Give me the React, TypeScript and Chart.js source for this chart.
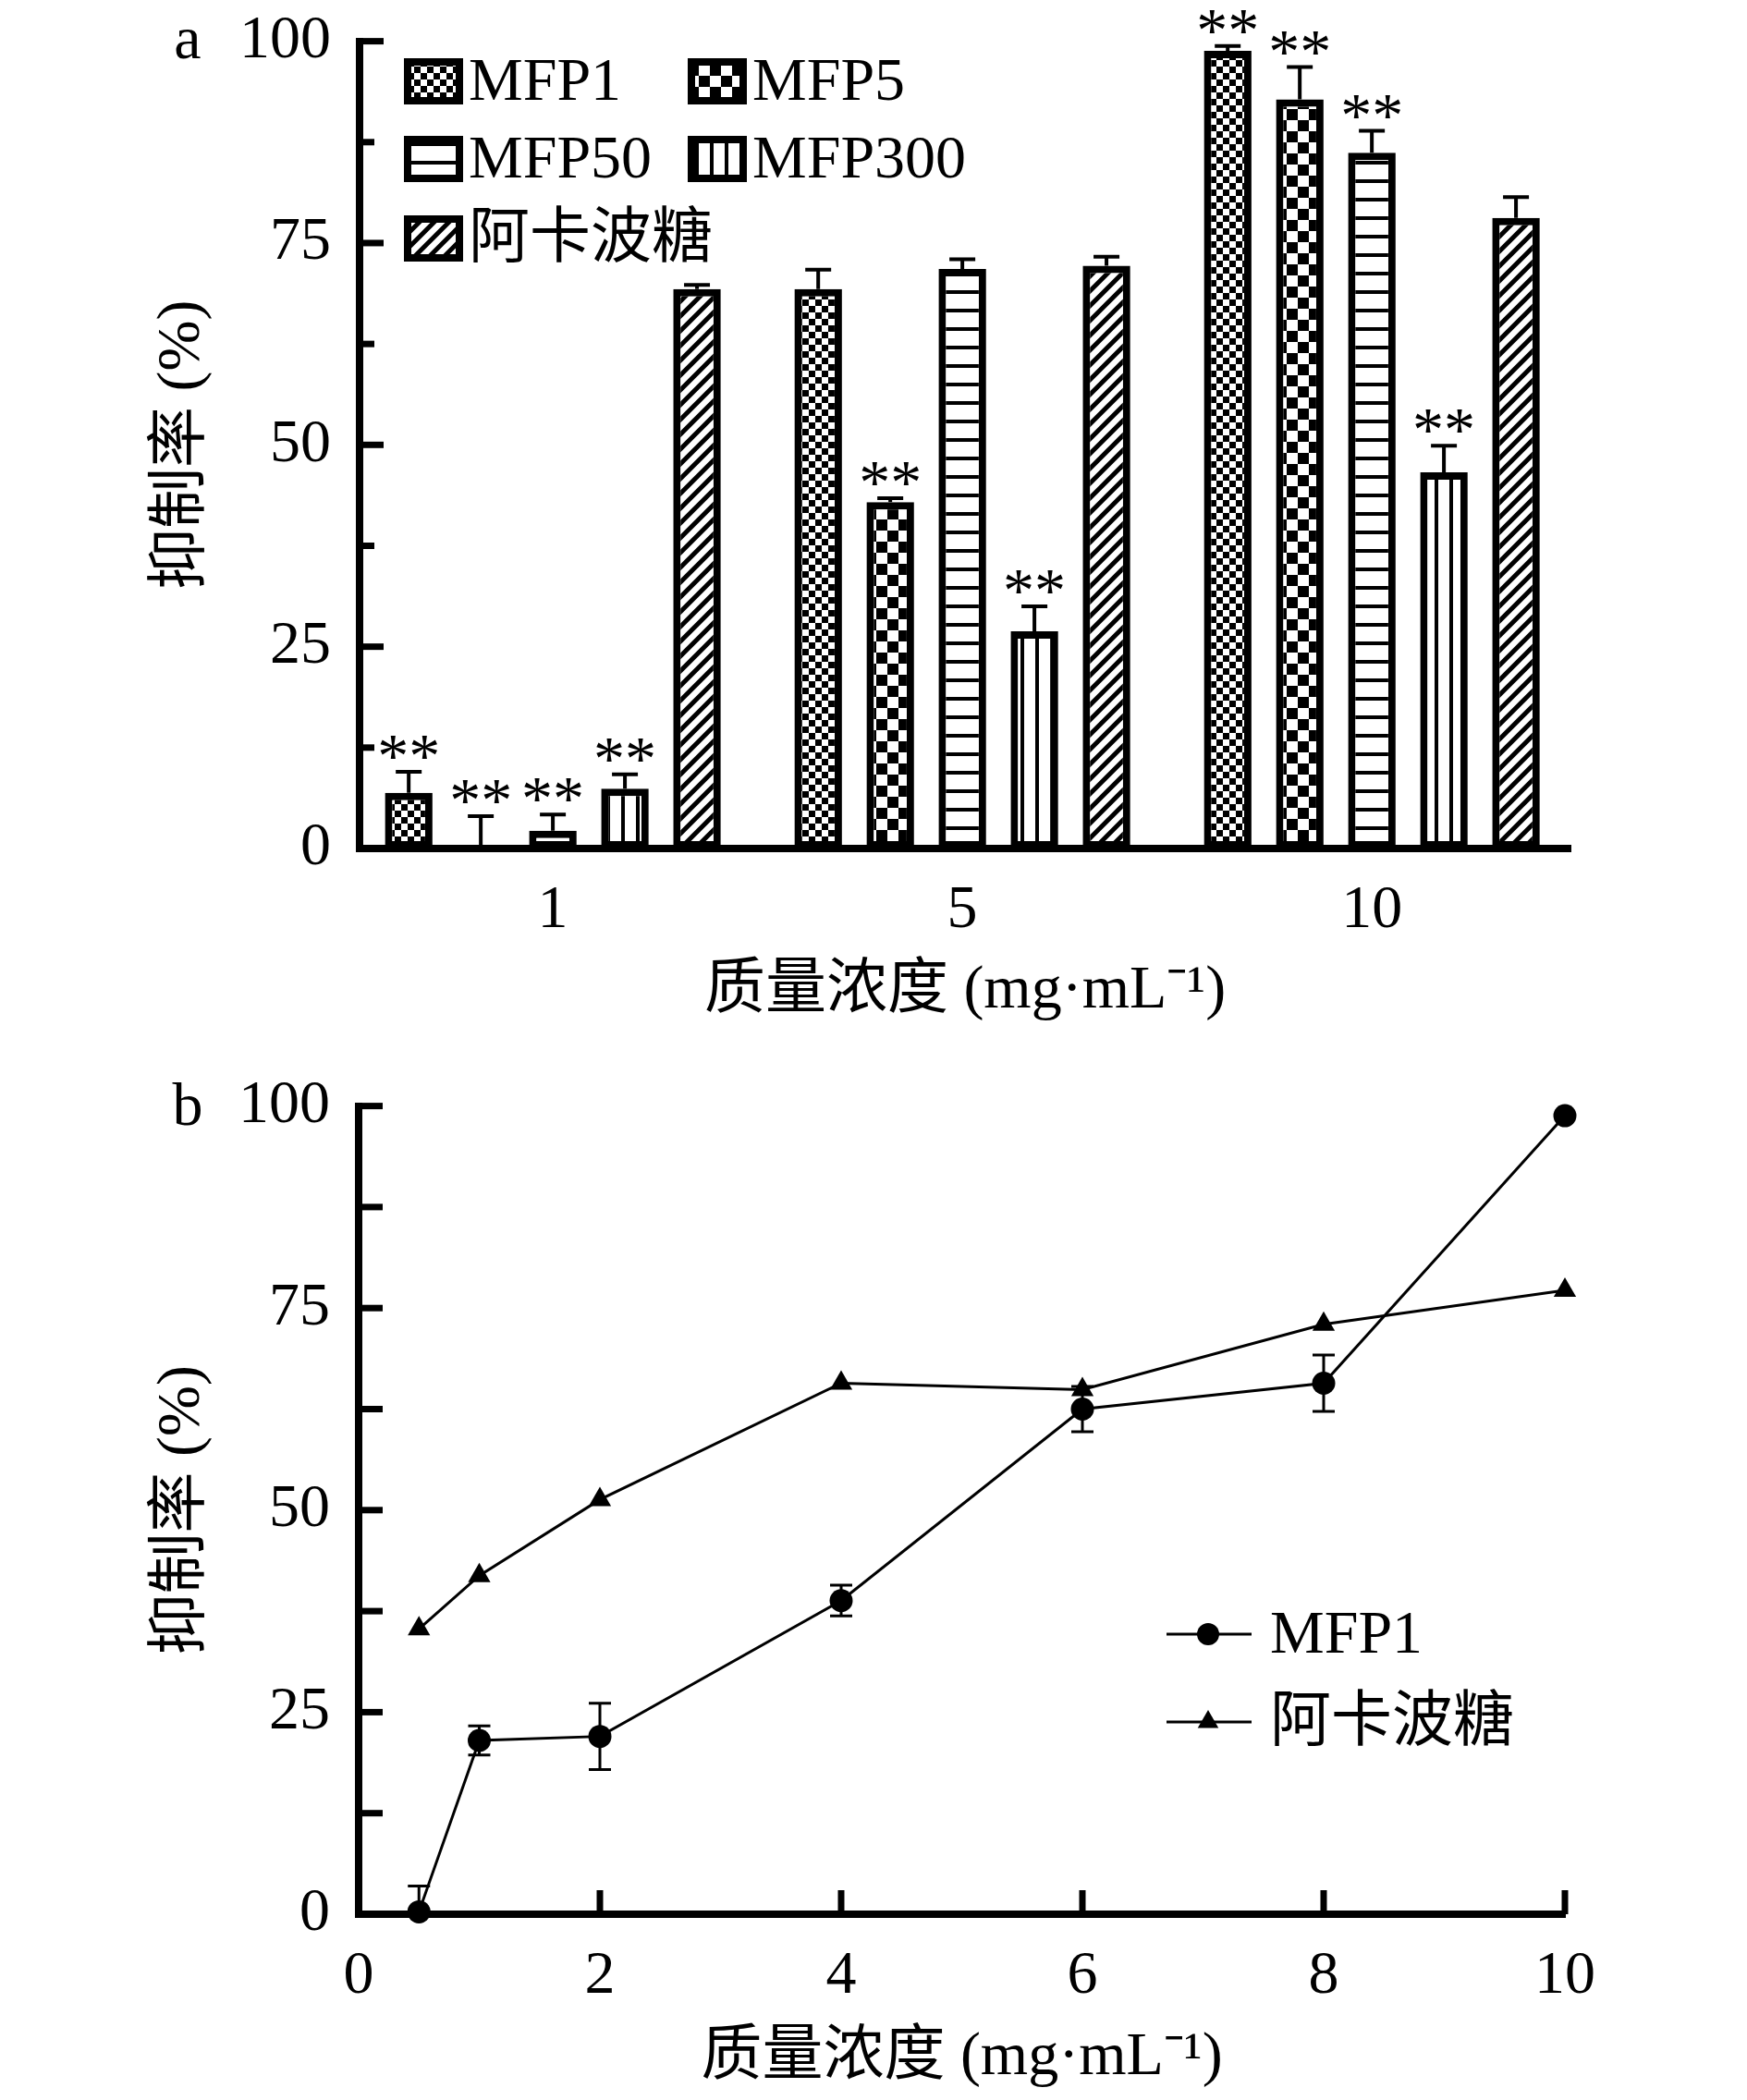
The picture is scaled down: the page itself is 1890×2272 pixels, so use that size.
import React, { useEffect, useRef } from 'react';
import { Chart, registerables } from 'chart.js';

Chart.register(...registerables);

// ---------- Panel a data ----------
const categories = ['1', '5', '10'];
const seriesNames = ['MFP1', 'MFP5', 'MFP50', 'MFP300', '阿卡波糖'];
const mfp1Values = [6.9, 69.3, 98.8];
const mfp5Values = [0, 42.9, 92.8];
const mfp50Values = [2.2, 71.8, 86.2];
const mfp300Values = [7.4, 26.9, 46.6];
const acarboseValues = [69.3, 72.2, 78.1];
const mfp1Err = [2.6, 2.4, 0.6];
const mfp5Err = [4.0, 0.5, 4.0];
const mfp50Err = [2.0, 1.2, 2.7];
const mfp300Err = [1.8, 3.1, 3.3];
const acarboseErr = [0.5, 1.1, 2.6];
const mfp1Sig = ['**', '', '**'];
const mfp5Sig = ['**', '**', '**'];
const mfp50Sig = ['**', '', '**'];
const mfp300Sig = ['**', '**', '**'];
const acarboseSig = ['', '', ''];
const yTicksA = [0, 25, 50, 75, 100];

// ---------- Panel b data ----------
const concentrations = [0.5, 1, 2, 4, 6, 8, 10];
const mfp1Curve = [0.3, 21.5, 22.0, 38.8, 62.5, 65.7, 98.8];
const mfp1CurveErr = [3.2, 1.8, 4.1, 1.9, 2.8, 3.5, 0];
const acarboseCurve = [35.3, 41.9, 51.3, 65.7, 64.9, 73.0, 77.2];
const xTicksB = [0, 2, 4, 6, 8, 10];
const curveNames = ['MFP1', '阿卡波糖'];

const xTitle = '质量浓度 (mg·mL⁻¹)';
const yTitle = '抑制率 (%)';

const FAMILY = '"Liberation Serif", "Times New Roman", "Noto Sans CJK SC", serif';
const FS = 66;
const font = { family: FAMILY, size: FS, weight: 'normal' as const, lineHeight: 1.2 };

// vertical offsets of the two canvases on the page
const TOP_A = -26;
const TOP_B = 1126;

function makePattern(kind: string): CanvasPattern | string {
  const c = document.createElement('canvas');
  let s = 16;
  if (kind === 'checkSmall') s = 14;
  if (kind === 'checkLarge') s = 24;
  if (kind === 'hlines') s = 20;
  if (kind === 'vlines') s = 16;
  if (kind === 'diag') s = 16;
  c.width = s;
  c.height = s;
  const g = c.getContext('2d')!;
  g.fillStyle = '#fff';
  g.fillRect(0, 0, s, s);
  g.fillStyle = '#000';
  g.strokeStyle = '#000';
  if (kind === 'checkSmall' || kind === 'checkLarge') {
    const h = s / 2;
    g.fillRect(0, 0, h, h);
    g.fillRect(h, h, h, h);
  } else if (kind === 'hlines') {
    g.fillRect(0, 0, s, 4);
  } else if (kind === 'vlines') {
    g.fillRect(0, 0, 4, s);
  } else if (kind === 'diag') {
    g.lineWidth = 5;
    g.beginPath();
    g.moveTo(0, s);
    g.lineTo(s, 0);
    g.moveTo(-s / 2, s / 2);
    g.lineTo(s / 2, -s / 2);
    g.moveTo(s / 2, (3 * s) / 2);
    g.lineTo((3 * s) / 2, s / 2);
    g.stroke();
  }
  const p = g.createPattern(c, 'repeat');
  return p || '#888';
}

function drawLegendBox(ctx: CanvasRenderingContext2D, x: number, y: number, w: number, h: number, fill: any) {
  ctx.save();
  ctx.fillStyle = fill;
  ctx.fillRect(x, y, w, h);
  ctx.strokeStyle = '#000';
  ctx.lineWidth = 8;
  ctx.strokeRect(x + 4, y + 4, w - 8, h - 8);
  ctx.restore();
}

export default function App() {
  const refA = useRef<HTMLCanvasElement>(null);
  const refB = useRef<HTMLCanvasElement>(null);

  useEffect(() => {
    const patterns = [
      makePattern('checkSmall'),
      makePattern('checkLarge'),
      makePattern('hlines'),
      makePattern('vlines'),
      makePattern('diag'),
    ];
    const values = [mfp1Values, mfp5Values, mfp50Values, mfp300Values, acarboseValues];
    const errs = [mfp1Err, mfp5Err, mfp50Err, mfp300Err, acarboseErr];
    const sigs = [mfp1Sig, mfp5Sig, mfp50Sig, mfp300Sig, acarboseSig];
    const oa = -TOP_A;

    const pluginA = {
      id: 'panelA',
      afterDatasetsDraw(chart: any) {
        const ctx: CanvasRenderingContext2D = chart.ctx;
        const ys = chart.scales.y;
        const area = chart.chartArea;
        ctx.save();
        values.forEach((vals, di) => {
          const meta = chart.getDatasetMeta(di);
          meta.data.forEach((bar: any, i: number) => {
            const cx = bar.x;
            const top = ys.getPixelForValue(vals[i]);
            const capY = ys.getPixelForValue(vals[i] + errs[di][i]);
            ctx.strokeStyle = '#000';
            ctx.lineWidth = 4;
            ctx.beginPath();
            ctx.moveTo(cx, top);
            ctx.lineTo(cx, capY);
            ctx.moveTo(cx - 14, capY);
            ctx.lineTo(cx + 14, capY);
            ctx.stroke();
            const sg = sigs[di][i];
            if (sg) {
              ctx.fillStyle = '#000';
              ctx.font = `68px ${FAMILY}`;
              ctx.textAlign = 'center';
              ctx.textBaseline = 'alphabetic';
              ctx.fillText(sg, cx, capY + 5);
            }
          });
        });
        ctx.strokeStyle = '#000';
        ctx.lineWidth = 7;
        for (let v = 0; v <= 100; v += 12.5) {
          const py = ys.getPixelForValue(v);
          const len = v % 25 === 0 ? 26 : 16;
          ctx.beginPath();
          ctx.moveTo(area.left, py);
          ctx.lineTo(area.left + len, py);
          ctx.stroke();
        }
        ctx.fillStyle = '#000';
        ctx.fillRect(area.left - 4, area.bottom - 4, 8, 8);
        // legend
        const boxW = 64;
        const boxH = 50;
        const cols = [437, 744];
        const rows = [88 + oa, 172 + oa, 258 + oa];
        ctx.font = `${FS}px ${FAMILY}`;
        ctx.textAlign = 'left';
        ctx.textBaseline = 'middle';
        seriesNames.forEach((name, i) => {
          const col = i % 2;
          const row = Math.floor(i / 2);
          const bx = cols[col];
          const by = rows[row] - boxH / 2;
          drawLegendBox(ctx, bx, by, boxW, boxH, patterns[i]);
          ctx.fillStyle = '#000';
          ctx.fillText(name, bx + boxW + 6, rows[row] + 3);
        });
        ctx.textAlign = 'center';
        ctx.fillText('a', 203, 46 + oa);
        ctx.restore();
      },
    };

    const chartA = new Chart(refA.current!, {
      type: 'bar',
      data: {
        datasets: seriesNames.map((name, i) => ({
          label: name,
          data: values[i].map((v, ci) => ({ x: ci, y: v })),
          backgroundColor: patterns[i] as any,
          borderColor: '#000',
          borderWidth: 8,
          borderSkipped: false,
          categoryPercentage: 0.88,
          barPercentage: 0.66,
        })),
      },
      options: {
        animation: false,
        responsive: false,
        devicePixelRatio: 1,
        layout: { padding: { left: 0, right: 191, top: 42 + oa, bottom: 18 } },
        plugins: { legend: { display: false }, tooltip: { enabled: false } },
        scales: {
          x: {
            type: 'linear',
            offset: false,
            min: -0.472,
            max: 2.485,
            afterBuildTicks: (s: any) => {
              s.ticks = categories.map((_, i) => ({ value: i }));
            },
            grid: { display: false, drawTicks: false, offset: false },
            border: { display: true, width: 8, color: '#000' },
            ticks: {
              font,
              color: '#000',
              padding: 28,
              maxRotation: 0,
              callback: (_v: any, index: number) => categories[index],
            },
            title: { display: true, text: xTitle, font, color: '#000', padding: { top: 0, bottom: 0 } },
            afterFit: (s: any) => {
              s.height = 194;
            },
          },
          y: {
            min: 0,
            max: 100,
            afterBuildTicks: (s: any) => {
              s.ticks = yTicksA.map((v) => ({ value: v }));
            },
            ticks: { font, color: '#000', padding: 31 },
            grid: { display: false, drawTicks: false },
            border: { display: true, width: 8, color: '#000' },
            title: { display: true, text: yTitle, font, color: '#000', padding: { top: 158, bottom: 0 } },
            afterFit: (s: any) => {
              s.width = 389;
            },
          },
        },
      },
      plugins: [pluginA],
    });

    const ob = 1130 - TOP_B;
    const pluginB = {
      id: 'panelB',
      afterDatasetsDraw(chart: any) {
        const ctx: CanvasRenderingContext2D = chart.ctx;
        const xs = chart.scales.x;
        const ys = chart.scales.y;
        const area = chart.chartArea;
        ctx.save();
        ctx.strokeStyle = '#000';
        ctx.lineWidth = 7;
        for (let v = 0; v <= 100; v += 12.5) {
          const py = ys.getPixelForValue(v);
          ctx.beginPath();
          ctx.moveTo(area.left, py);
          ctx.lineTo(area.left + 26, py);
          ctx.stroke();
        }
        xTicksB.forEach((v) => {
          if (v === 0) return;
          const px = xs.getPixelForValue(v);
          ctx.beginPath();
          ctx.moveTo(px, area.bottom);
          ctx.lineTo(px, area.bottom - 26);
          ctx.stroke();
        });
        ctx.fillStyle = '#000';
        ctx.fillRect(area.left - 4, area.bottom - 4, 8, 8);
        ctx.lineWidth = 3;
        concentrations.forEach((c, i) => {
          const e = mfp1CurveErr[i];
          if (!e) return;
          const px = xs.getPixelForValue(c);
          const hi = ys.getPixelForValue(mfp1Curve[i] + e);
          const lo = ys.getPixelForValue(Math.max(0, mfp1Curve[i] - e));
          ctx.beginPath();
          ctx.moveTo(px, lo);
          ctx.lineTo(px, hi);
          ctx.moveTo(px - 12, hi);
          ctx.lineTo(px + 12, hi);
          if (mfp1Curve[i] - e > 0) {
            ctx.moveTo(px - 12, lo);
            ctx.lineTo(px + 12, lo);
          }
          ctx.stroke();
        });
        // legend
        const rowsY = [638 + ob, 733 + ob];
        const styles = ['circle', 'triangle'];
        ctx.font = `${FS}px ${FAMILY}`;
        ctx.textAlign = 'left';
        ctx.textBaseline = 'middle';
        curveNames.forEach((name, i) => {
          const y = rowsY[i];
          ctx.strokeStyle = '#000';
          ctx.lineWidth = 3;
          ctx.beginPath();
          ctx.moveTo(1262, y);
          ctx.lineTo(1354, y);
          ctx.stroke();
          ctx.fillStyle = '#000';
          ctx.beginPath();
          if (styles[i] === 'circle') {
            ctx.arc(1307, y, 12, 0, Math.PI * 2);
          } else {
            const r = 13;
            ctx.moveTo(1307, y - r);
            ctx.lineTo(1307 + r * 0.866, y + r * 0.5);
            ctx.lineTo(1307 - r * 0.866, y + r * 0.5);
            ctx.closePath();
          }
          ctx.fill();
          ctx.fillText(name, 1374, y + 3);
        });
        ctx.textAlign = 'center';
        ctx.fillText('b', 203, 70 + ob);
        ctx.restore();
      },
    };

    const chartB = new Chart(refB.current!, {
      type: 'line',
      data: {
        datasets: [
          {
            label: curveNames[0],
            data: concentrations.map((c, i) => ({ x: c, y: mfp1Curve[i] })),
            borderColor: '#000',
            backgroundColor: '#000',
            borderWidth: 3,
            pointStyle: 'circle',
            pointRadius: 12.5,
            pointBorderWidth: 0,
            pointBackgroundColor: '#000',
            tension: 0,
            clip: false as any,
          },
          {
            label: curveNames[1],
            data: concentrations.map((c, i) => ({ x: c, y: acarboseCurve[i] })),
            borderColor: '#000',
            backgroundColor: '#000',
            borderWidth: 3,
            pointStyle: 'triangle',
            pointRadius: 14,
            pointBorderWidth: 0,
            pointBackgroundColor: '#000',
            tension: 0,
            clip: false as any,
          },
        ],
      },
      options: {
        animation: false,
        responsive: false,
        devicePixelRatio: 1,
        layout: { padding: { left: 0, right: 197, top: 64 + ob, bottom: 6 } },
        plugins: { legend: { display: false }, tooltip: { enabled: false } },
        scales: {
          x: {
            type: 'linear',
            min: 0,
            max: 10,
            afterBuildTicks: (s: any) => {
              s.ticks = xTicksB.map((v) => ({ value: v }));
            },
            grid: { display: false, drawTicks: false },
            border: { display: true, width: 8, color: '#000' },
            ticks: { font, color: '#000', padding: 28, maxRotation: 0 },
            title: { display: true, text: xTitle, font, color: '#000', padding: { top: 0, bottom: 0 } },
            afterFit: (s: any) => {
              s.height = 195;
            },
          },
          y: {
            min: 0,
            max: 100,
            afterBuildTicks: (s: any) => {
              s.ticks = yTicksA.map((v) => ({ value: v }));
            },
            ticks: { font, color: '#000', padding: 31 },
            grid: { display: false, drawTicks: false },
            border: { display: true, width: 8, color: '#000' },
            title: { display: true, text: yTitle, font, color: '#000', padding: { top: 158, bottom: 0 } },
            afterFit: (s: any) => {
              s.width = 388;
            },
          },
        },
      },
      plugins: [pluginB],
    });

    return () => {
      chartA.destroy();
      chartB.destroy();
    };
  }, []);

  return (
    <div style={{ position: 'absolute', left: 0, top: 0, width: 1890, height: 2272, background: '#fff', overflow: 'hidden' }}>
      <canvas
        ref={refA}
        width={1890}
        height={1130 - TOP_A}
        style={{ position: 'absolute', left: 0, top: TOP_A, width: 1890, height: 1130 - TOP_A }}
      />
      <canvas
        ref={refB}
        width={1890}
        height={2272 - TOP_B}
        style={{ position: 'absolute', left: 0, top: TOP_B, width: 1890, height: 2272 - TOP_B }}
      />
    </div>
  );
}
